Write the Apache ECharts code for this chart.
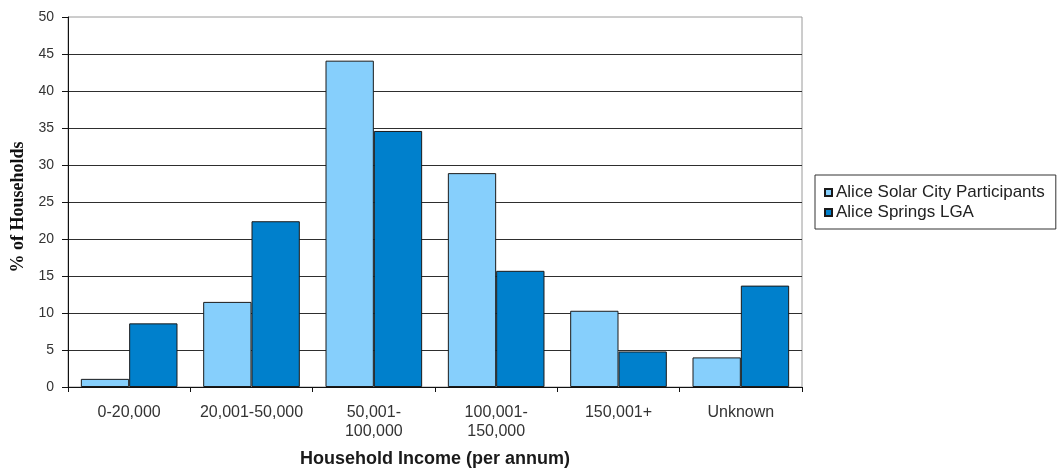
<!DOCTYPE html>
<html>
<head>
<meta charset="utf-8">
<script src="https://cdn.jsdelivr.net/npm/echarts@6/dist/echarts.min.js"></script>
<style>
  html, body { margin: 0; padding: 0; background: #fff; }
  #chart { width: 1057px; height: 468px; }
</style>
</head>
<body>
<div id="chart"></div>
<script>
// Household income bands (per annum)
const categories = ['0-20,000', '20,001-50,000', '50,001-\n100,000', '100,001-\n150,000', '150,001+', 'Unknown'];
// % of households in each band
const participants = [1.1, 11.5, 44.1, 28.9, 10.3, 4.0];
const lgaHouseholds = [8.6, 22.4, 34.6, 15.7, 4.8, 13.7];
const seriesNames = ['Alice Solar City Participants', 'Alice Springs LGA'];

const sans = "'Liberation Sans', Arial, sans-serif";

const chart = echarts.init(document.getElementById('chart'), null, { renderer: 'canvas' });

chart.setOption({
  animation: false,
  backgroundColor: '#ffffff',
  grid: {
    left: 68, right: 255, top: 17, bottom: 81,
    containLabel: false,
    outerBoundsMode: 'none',
    show: true, borderColor: '#9a9a9a', borderWidth: 1, backgroundColor: 'transparent'
  },
  legend: {
    orient: 'vertical',
    left: 815, top: 175,
    padding: [9, 11, 8, 9],
    itemGap: 3,
    itemWidth: 7, itemHeight: 7,
    icon: 'rect',
    borderColor: '#333', borderWidth: 1,
    textStyle: { fontFamily: sans, fontSize: 17, color: '#222', padding: [0, 0, 0, -1] },
    data: seriesNames
  },
  xAxis: {
    type: 'category',
    data: categories,
    name: 'Household Income (per annum)',
    nameLocation: 'middle',
    nameGap: 63,
    nameTextStyle: { fontFamily: sans, fontSize: 18, fontWeight: 'bold', color: '#1a1a1a' },
    axisLine: { lineStyle: { color: '#111', width: 1 } },
    axisTick: { show: true, length: 5, lineStyle: { color: '#111' } },
    axisLabel: { interval: 0, hideOverlap: false, fontFamily: sans, fontSize: 16, color: '#333', margin: 16, lineHeight: 19 }
  },
  yAxis: {
    type: 'value',
    min: 0, max: 50, interval: 5,
    name: '% of Households',
    nameLocation: 'middle',
    nameRotate: 90,
    nameGap: 40,
    nameTextStyle: { fontFamily: "'Liberation Serif', 'Times New Roman', serif", fontSize: 18, fontWeight: 'bold', color: '#111', padding: [0, 0, 0, -10] },
    axisLine: { show: true, lineStyle: { color: '#111', width: 1 } },
    axisTick: { show: true, length: 6, lineStyle: { color: '#111' } },
    axisLabel: { fontFamily: sans, fontSize: 14, color: '#333', margin: 14 },
    splitLine: { show: true, showMaxLine: false, lineStyle: { color: '#2e2e2e', width: 1 } }
  },
  series: [
    {
      name: seriesNames[0],
      type: 'bar',
      data: participants,
      barGap: '0%',
      barCategoryGap: '21%',
      itemStyle: { color: '#86CFFC', borderColor: '#1a1a1a', borderWidth: 1 }
    },
    {
      name: seriesNames[1],
      type: 'bar',
      data: lgaHouseholds,
      barGap: '0%',
      barCategoryGap: '21%',
      itemStyle: { color: '#0080CC', borderColor: '#1a1a1a', borderWidth: 1 }
    }
  ]
});
</script>
</body>
</html>
